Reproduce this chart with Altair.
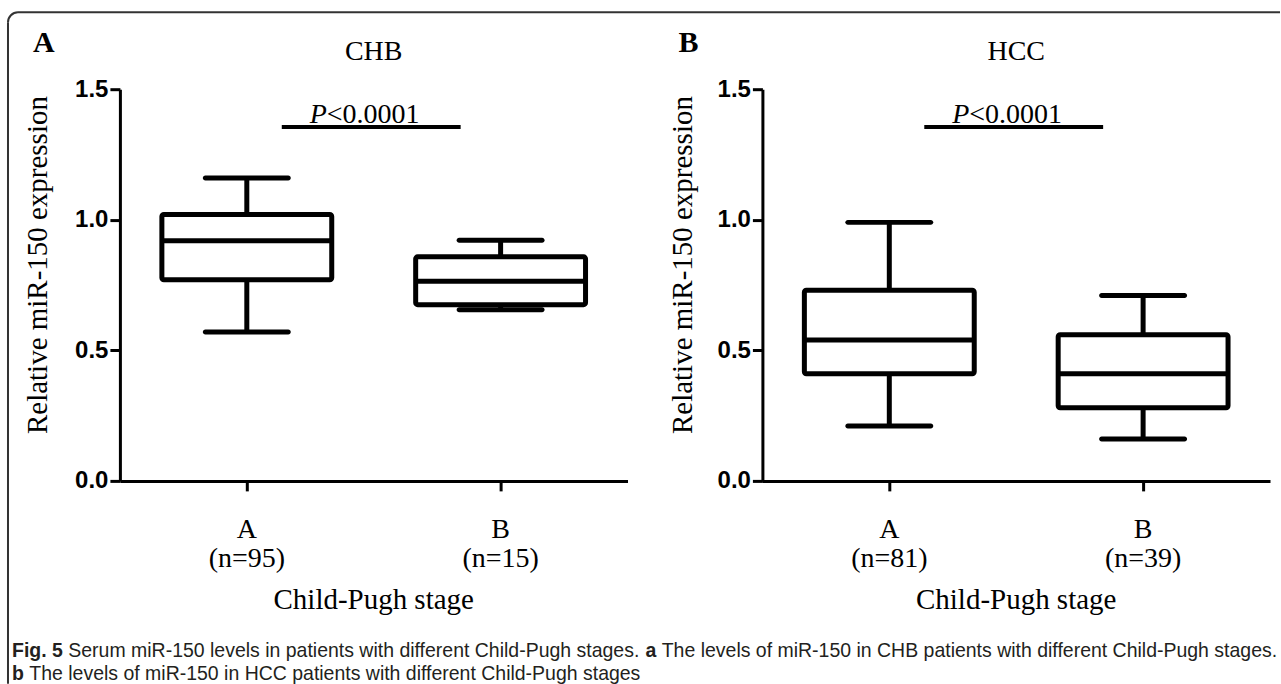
import altair as alt
import pandas as pd

# ---------------- data ----------------
stages = ["A", "B"]
chb_n = [95, 15]
hcc_n = [81, 39]

chb_min = [0.57, 0.655]
chb_q1 = [0.77, 0.675]
chb_med = [0.92, 0.765]
chb_q3 = [1.02, 0.858]
chb_max = [1.16, 0.922]

hcc_min = [0.21, 0.16]
hcc_q1 = [0.41, 0.28]
hcc_med = [0.54, 0.41]
hcc_q3 = [0.73, 0.56]
hcc_max = [0.99, 0.71]

y_ticks = [0.0, 0.5, 1.0, 1.5]
sig_y = 1.355
p_label = ["P", "<0.0001"]
y_title = "Relative miR-150 expression"
x_title = "Child-Pugh stage"

caption_line1 = [("Fig. 5", True), (" Serum miR-150 levels in patients with different Child-Pugh stages. ", False),
                 ("a", True), (" The levels of miR-150 in CHB patients with different Child-Pugh stages.", False)]
caption_line2 = [("b", True), (" The levels of miR-150 in HCC patients with different Child-Pugh stages", False)]

# ---------------- layout constants ----------------
W, H = 508, 392
OX, OY = 120, 89          # plot origin of panel A on the page
PAGE_W, PAGE_H = 1281, 684
SERIF = "Liberation Serif"
SANS = "Liberation Sans"
CAP_FS = 19.5

# Arial/Liberation Sans advance widths (per 1000 em) used to place caption segments
REG = {' ': 278, '-': 333, '.': 278, 'B': 667, 'C': 722, 'H': 722, 'P': 667, 'R': 722, 'S': 667,
       'T': 611, 'F': 611, 'a': 556, 'b': 556, 'c': 500, 'd': 556, 'e': 556, 'f': 278, 'g': 556,
       'h': 556, 'i': 222, 'l': 222, 'm': 833, 'n': 556, 'o': 556, 'p': 556, 'r': 333, 's': 500,
       't': 278, 'u': 556, 'v': 500, 'w': 722}
BOLD = {'F': 611, 'i': 278, 'g': 611, '.': 278, ' ': 278, '5': 556, 'a': 556, 'b': 611}


def tw(s, bold):
    tab = BOLD if bold else REG
    return sum(tab.get(c, 556) for c in s) / 1000.0 * CAP_FS


def caption_rows(segments, x0, y):
    rows = []
    x = x0
    for txt, b in segments:
        lead = len(txt) - len(txt.lstrip(" "))
        x += tw(" " * lead, b)
        core = txt.strip(" ")
        rows.append({"t": core, "x": x - OX, "y": y - OY, "bold": b})
        x += tw(txt.lstrip(" "), b)
    return rows


def panel(title, letter, ns, mins, q1s, meds, q3s, maxs, letter_dx, ytitle_dx, extra=None):
    df = pd.DataFrame({
        "stage": stages, "min": mins, "q1": q1s, "med": meds, "q3": q3s, "max": maxs,
        "label": [f"{s}\n(n={k})" for s, k in zip(stages, ns)],
    })
    base = alt.Chart(df)
    xenc = alt.X("stage:N", scale=alt.Scale(domain=stages, paddingInner=0, paddingOuter=0),
                 axis=alt.Axis(title=None, labels=False, tickSize=10, tickWidth=3, domainWidth=3,
                               domainColor="black", tickColor="black"))
    yaxis = alt.Axis(values=y_ticks, format=".1f", title=None, labelFont=SANS, labelFontWeight="bold",
                     labelFontSize=24, labelColor="black", tickSize=10, tickWidth=3, domainWidth=3,
                     domainColor="black", tickColor="black", labelPadding=2, grid=False)
    yscale = alt.Scale(domain=[0, 1.5], nice=False)

    wh_lo = base.mark_rule(color="black", strokeWidth=5).encode(
        x=xenc, y=alt.Y("min:Q", scale=yscale, axis=yaxis), y2="q1:Q")
    wh_hi = base.mark_rule(color="black", strokeWidth=5).encode(x=xenc, y="q3:Q", y2="max:Q")
    box = base.mark_bar(size=170, fill="white", stroke="black", strokeWidth=5, cornerRadius=2).encode(
        x=xenc, y="q1:Q", y2="q3:Q")
    cap_lo = base.mark_tick(size=88, thickness=5, color="black", cornerRadius=2.5, opacity=1).encode(x=xenc, y="min:Q")
    cap_hi = base.mark_tick(size=88, thickness=5, color="black", cornerRadius=2.5, opacity=1).encode(x=xenc, y="max:Q")
    med = base.mark_tick(size=170, thickness=5, color="black", opacity=1).encode(x=xenc, y="med:Q")
    xlab = base.mark_text(font=SERIF, fontSize=28, lineBreak="\n", lineHeight=29, baseline="alphabetic",
                          align="center", color="black").encode(x=xenc, y=alt.value(H + 57), text="label:N")

    one = pd.DataFrame({"t": [title], "l": [letter], "xt": [x_title], "yt": [y_title],
                        "p": [p_label[0]], "p2": [p_label[1]], "sy": [sig_y]})
    ann = alt.Chart(one)
    t_title = ann.mark_text(font=SERIF, fontSize=28, baseline="alphabetic", align="center", color="black").encode(
        x=alt.value(W / 2), y=alt.value(-29), text="t:N")
    t_letter = ann.mark_text(font=SERIF, fontSize=30, fontWeight="bold", baseline="alphabetic", align="left",
                             color="black").encode(x=alt.value(letter_dx), y=alt.value(-37), text="l:N")
    t_x = ann.mark_text(font=SERIF, fontSize=29, baseline="alphabetic", align="center",
                        color="black").encode(x=alt.value(W / 2), y=alt.value(520), text="xt:N")
    t_y = ann.mark_text(font=SERIF, fontSize=29, angle=270, baseline="middle", align="center",
                        color="black").encode(x=alt.value(ytitle_dx), y=alt.value(176), text="yt:N")
    sig = ann.mark_rule(color="black", strokeWidth=4).encode(
        x=alt.value(162), x2=alt.value(341), y=alt.Y("sy:Q"))
    p1 = ann.mark_text(font=SERIF, fontSize=28, fontStyle="italic", baseline="alphabetic", align="right",
                       dy=-4, color="black").encode(x=alt.value(207), y=alt.Y("sy:Q"), text="p:N")
    p2 = ann.mark_text(font=SERIF, fontSize=28, baseline="alphabetic", align="left",
                       dy=-4, color="black").encode(x=alt.value(207), y=alt.Y("sy:Q"), text="p2:N")

    layers = []
    if extra is not None:
        layers.extend(extra)
    layers += [wh_lo, wh_hi, box, cap_lo, cap_hi, med, xlab, t_title, t_letter, t_x, t_y, sig, p1, p2]
    return alt.layer(*layers).properties(width=W, height=H)


# ---- page furniture drawn inside panel A (canvas extent, frame, caption) ----
canvas_df = pd.DataFrame({"k": [0]})
canvas = alt.Chart(canvas_df).mark_rect(opacity=0).encode(
    x=alt.value(-OX), x2=alt.value(PAGE_W - OX), y=alt.value(-OY), y2=alt.value(PAGE_H - OY))
FR_X, FR_Y, FR_R = 8, 12, 10
frame_top = alt.Chart(canvas_df).mark_rule(color="#333333", strokeWidth=2).encode(
    x=alt.value(FR_X + FR_R - OX), x2=alt.value(PAGE_W - OX), y=alt.value(FR_Y - OY))
frame_left = alt.Chart(canvas_df).mark_rule(color="#333333", strokeWidth=2).encode(
    x=alt.value(FR_X - OX), y=alt.value(FR_Y + FR_R - OY), y2=alt.value(PAGE_H - OY))
frame_corner = alt.Chart(canvas_df).mark_arc(
    radius=FR_R, radius2=FR_R, theta=4.712389, theta2=6.283185, stroke="#333333", strokeWidth=2,
    fillOpacity=0).encode(x=alt.value(FR_X + FR_R - OX), y=alt.value(FR_Y + FR_R - OY))

cap_rows = caption_rows(caption_line1, 12, 657) + caption_rows(caption_line2, 12, 680)
cap_df = pd.DataFrame(cap_rows)
cap_bold = alt.Chart(cap_df[cap_df["bold"]]).mark_text(
    font=SANS, fontSize=CAP_FS, fontWeight="bold", align="left", baseline="alphabetic", color="#231f20").encode(
    x=alt.X("x:Q", scale=None), y=alt.Y("y:Q", scale=None), text="t:N")
cap_reg = alt.Chart(cap_df[~cap_df["bold"]]).mark_text(
    font=SANS, fontSize=CAP_FS, align="left", baseline="alphabetic", color="#231f20").encode(
    x=alt.X("x:Q", scale=None), y=alt.Y("y:Q", scale=None), text="t:N")

panelA = panel("CHB", "A", chb_n, chb_min, chb_q1, chb_med, chb_q3, chb_max, -87, -82,
               extra=[canvas, frame_top, frame_left, frame_corner, cap_bold, cap_reg])
panelB = panel("HCC", "B", hcc_n, hcc_min, hcc_q1, hcc_med, hcc_q3, hcc_max, -84, -79)

chart = alt.hconcat(panelA, panelB, spacing=135, bounds="flush").properties(
    padding=0, background="white").configure_view(stroke=None)

chart.save("out.html", embed_options={"renderer": "svg", "actions": False})
